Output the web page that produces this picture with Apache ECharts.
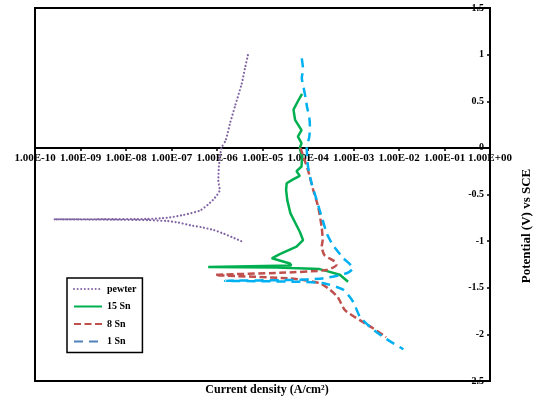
<!DOCTYPE html>
<html>
<head>
<meta charset="utf-8">
<script src="https://cdn.jsdelivr.net/npm/echarts@6/dist/echarts.min.js"></script>
<style>
  html, body { margin: 0; padding: 0; background: #fff; }
  #chart { width: 534px; height: 400px; }
</style>
</head>
<body>
<div id="chart"></div>
<script>
// Polarisation curves: [current density (A/cm²), potential (V vs SCE)]
const seriesNames = ['pewter', '15 Sn', '8 Sn', '1 Sn'];

const pewter = [
  [3.4e-6, -1.00], [2.2e-6, -0.96], [1.4e-6, -0.92], [8.3e-7, -0.88],
  [4.5e-7, -0.85], [2.6e-7, -0.83], [1.4e-7, -0.80], [8.0e-8, -0.785],
  [3.0e-8, -0.775], [5.0e-9, -0.770], [2.6e-10, -0.766], [3.0e-9, -0.765],
  [3.0e-8, -0.762], [6.0e-8, -0.755], [9.3e-8, -0.745], [1.8e-7, -0.72],
  [4.3e-7, -0.67], [8.1e-7, -0.56], [1.15e-6, -0.45], [1.07e-6, -0.35],
  [1.1e-6, -0.20], [1.25e-6, 0.00], [1.55e-6, 0.08], [1.95e-6, 0.27],
  [2.5e-6, 0.45], [3.5e-6, 0.69], [4.1e-6, 0.85], [4.8e-6, 1.00]
];

const sn15 = [
  [7.4e-5, 0.58], [6.0e-5, 0.50], [4.8e-5, 0.41], [5.2e-5, 0.30],
  [7.2e-5, 0.19], [6.0e-5, 0.12], [7.2e-5, 0.05], [6.6e-5, 0.00],
  [7.4e-5, -0.10], [7.2e-5, -0.20], [5.6e-5, -0.25], [6.6e-5, -0.30],
  [4.6e-5, -0.34], [3.4e-5, -0.38], [3.3e-5, -0.45], [3.5e-5, -0.56],
  [4.1e-5, -0.70], [5.2e-5, -0.80], [6.6e-5, -0.90], [7.8e-5, -0.99],
  [5.6e-5, -1.06], [2.4e-5, -1.14], [1.6e-5, -1.184], [1.7e-5, -1.20],
  [4.0e-5, -1.24], [4.3e-5, -1.262], [6.4e-7, -1.278], [2.0e-5, -1.283],
  [1.8e-4, -1.30], [3.0e-4, -1.33], [5.0e-4, -1.36], [7.6e-4, -1.435]
];

const sn8 = [
  [6.8e-5, 0.00], [1.0e-4, -0.24], [1.3e-4, -0.45], [1.67e-4, -0.63],
  [2.0e-4, -0.85], [2.1e-4, -0.99], [2.0e-4, -1.06], [2.3e-4, -1.15],
  [3.9e-4, -1.22], [4.2e-4, -1.256], [2.6e-4, -1.31], [2.4e-5, -1.34],
  [9.1e-7, -1.363], [4.0e-5, -1.40], [1.8e-4, -1.45], [3.0e-4, -1.52],
  [4.5e-4, -1.60], [6.5e-4, -1.74], [1.4e-3, -1.85], [2.7e-3, -1.935],
  [5.2e-3, -2.03]
];

const sn1 = [
  [7.3e-5, 0.96], [7.8e-5, 0.84], [7.3e-5, 0.75], [7.9e-5, 0.66],
  [8.9e-5, 0.53], [9.5e-5, 0.44], [1.07e-4, 0.32], [1.1e-4, 0.23],
  [1.07e-4, 0.12], [9.4e-5, 0.00], [1.0e-4, -0.20], [1.2e-4, -0.38],
  [1.55e-4, -0.56], [2.0e-4, -0.74], [2.6e-4, -0.92], [3.5e-4, -1.04],
  [5.9e-4, -1.18], [9.8e-4, -1.29], [7.1e-4, -1.345], [2.1e-4, -1.40],
  [4.0e-5, -1.417], [1.5e-6, -1.425], [5.0e-5, -1.435], [2.1e-4, -1.45],
  [5.9e-4, -1.52], [9.8e-4, -1.65], [1.38e-3, -1.81], [2.5e-3, -1.935],
  [4.9e-3, -2.04], [1.25e-2, -2.16]
];

// decade ticks on the current-density axis
const xTicks = [1e-10, 1e-9, 1e-8, 1e-7, 1e-6, 1e-5, 1e-4, 1e-3, 1e-2, 1e-1, 1];
const xRange = [1e-10, 1];
const yRange = [-2.5, 1.5];
const yStep = 0.5;

const font = '"Liberation Serif", "Times New Roman", serif';

// grid geometry
const gridTop = 8, gridBottom = 19, chartHeight = 400;
const plotHeight = chartHeight - gridTop - gridBottom;
// lift the current-density axis so it crosses the potential axis at 0 V
const xAxisOffset = -plotHeight * (0 - yRange[0]) / (yRange[1] - yRange[0]);

// 1e-9 -> "1.00E-09"
function sciLabel(v) {
  const e = Math.round(Math.log10(v));
  const m = v / Math.pow(10, e);
  const sign = e < 0 ? '-' : '+';
  const ee = String(Math.abs(e)).padStart(2, '0');
  return m.toFixed(2) + 'E' + sign + ee;
}

const chart = echarts.init(document.getElementById('chart'), null, { renderer: 'canvas' });

chart.setOption({
  animation: false,
  backgroundColor: '#fff',
  grid: {
    left: 35, right: 44, top: gridTop, bottom: gridBottom,
    show: true, borderColor: '#000', borderWidth: 2, backgroundColor: 'transparent'
  },
  xAxis: {
    type: 'log', logBase: 10, min: xRange[0], max: xRange[1],
    position: 'bottom', offset: xAxisOffset,
    axisLine: { onZero: false, lineStyle: { color: '#000', width: 2 } },
    axisTick: { show: true, length: 3, customValues: xTicks, lineStyle: { color: '#000', width: 1.5 } },
    minorTick: { show: false },
    splitLine: { show: false },
    axisLabel: {
      customValues: xTicks, hideOverlap: false,
      margin: 5, color: '#000', fontFamily: font, fontWeight: 'bold', fontSize: 11,
      formatter: sciLabel
    }
  },
  yAxis: {
    type: 'value', position: 'right', min: yRange[0], max: yRange[1], interval: yStep,
    axisLine: { show: true, onZero: false, lineStyle: { color: '#000', width: 2 } },
    axisTick: { show: true, inside: true, length: 3, lineStyle: { color: '#000', width: 1.5 } },
    splitLine: { show: false },
    axisLabel: {
      inside: true, margin: 6, color: '#000', fontFamily: font, fontWeight: 'bold', fontSize: 10,
      showMinLabel: true, showMaxLabel: true
    }
  },
  legend: {
    orient: 'vertical', left: 67, top: 278,
    padding: [6, 6, 6, 6],
    itemWidth: 28, itemHeight: 10, itemGap: 7.5,
    borderColor: '#000', borderWidth: 1.5, backgroundColor: '#fff',
    itemStyle: { opacity: 0 },
    textStyle: { color: '#000', fontFamily: font, fontWeight: 'bold', fontSize: 10 },
    data: [
      { name: 'pewter' },
      { name: '15 Sn' },
      { name: '8 Sn' },
      { name: '1 Sn', lineStyle: { color: '#4F81BD' } }
    ]
  },
  series: [
    {
      name: seriesNames[0], type: 'line', data: pewter, symbol: 'none', smooth: 0.2,
      color: '#8064A2',
      lineStyle: { color: '#8064A2', width: 2.2, type: [0.01, 3.6], cap: 'round' }
    },
    {
      name: seriesNames[1], type: 'line', data: sn15, symbol: 'none', smooth: false,
      color: '#00B050',
      lineStyle: { color: '#00B050', width: 2.5 }
    },
    {
      name: seriesNames[2], type: 'line', data: sn8, symbol: 'none', smooth: 0.2,
      color: '#C0504D',
      lineStyle: { color: '#C0504D', width: 2.5, type: [7, 3.5] }
    },
    {
      name: seriesNames[3], type: 'line', data: sn1, symbol: 'none', smooth: 0.2,
      color: '#00B0F0',
      lineStyle: { color: '#00B0F0', width: 2.5, type: [9, 6] }
    }
  ],
  graphic: [
    {
      type: 'text', left: 'center', top: 384, z: 10,
      style: {
        text: 'Current density (A/cm²)', fill: '#000',
        font: 'bold 12px ' + font
      }
    },
    {
      type: 'text', x: 527, y: 226, rotation: Math.PI / 2, z: 10,
      style: {
        text: 'Potential (V) vs SCE', fill: '#000',
        font: 'bold 13px ' + font, align: 'center', verticalAlign: 'middle'
      }
    }
  ]
});
</script>
</body>
</html>
